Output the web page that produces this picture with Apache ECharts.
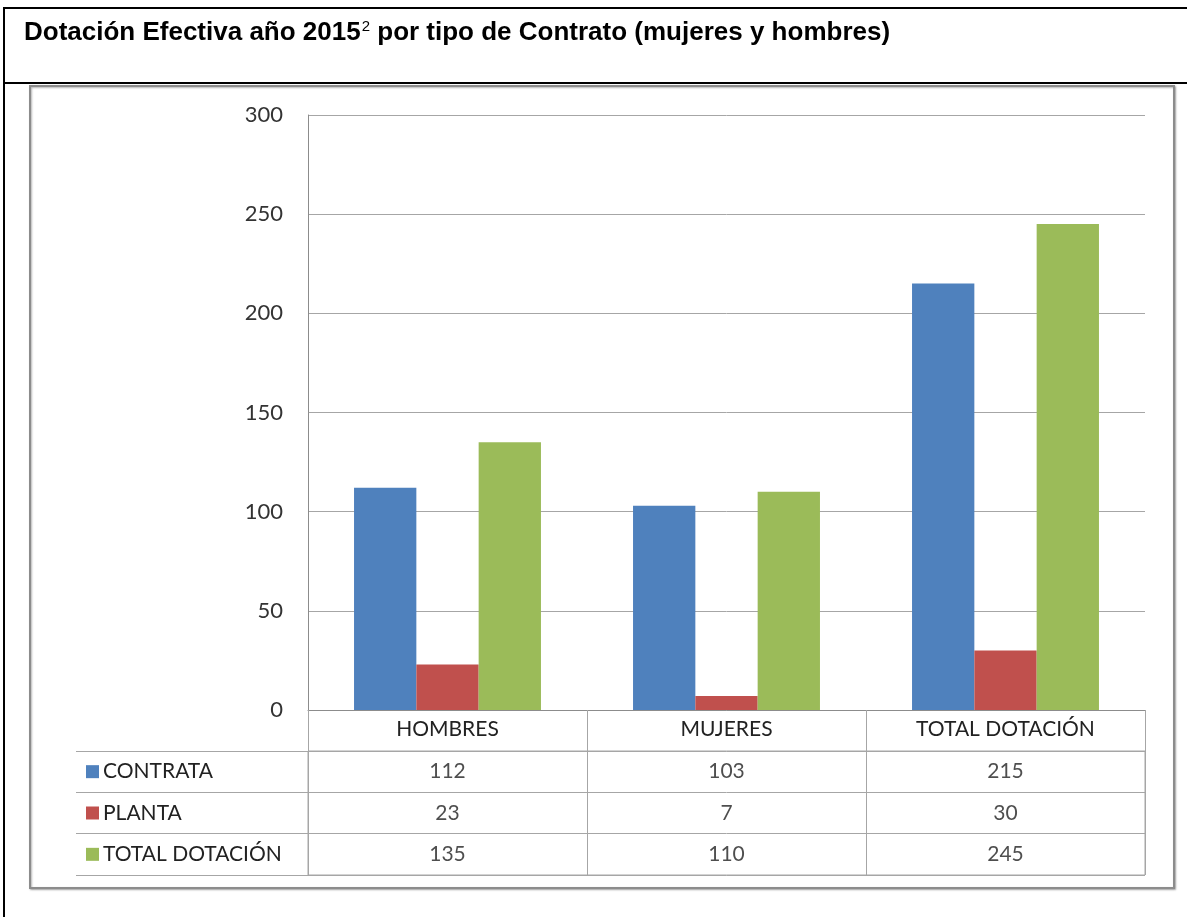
<!DOCTYPE html>
<html>
<head>
<meta charset="utf-8">
<script src="https://cdn.jsdelivr.net/npm/echarts@6/dist/echarts.min.js"></script>
<style>
  html, body { margin: 0; padding: 0; background: #fff; }
  #chart { width: 1187px; height: 917px; }
</style>
</head>
<body>
<div id="chart"></div>
<script>
// data
var categories = ['HOMBRES', 'MUJERES', 'TOTAL DOTACIÓN'];
var seriesNames = ['CONTRATA', 'PLANTA', 'TOTAL DOTACIÓN'];
var contrata = [112, 103, 215];
var planta = [23, 7, 30];
var totalDotacion = [135, 110, 245];
var yTicks = [0, 50, 100, 150, 200, 250, 300];

var colors = ['#4F81BD', '#C0504D', '#9BBB59'];
var values = [contrata, planta, totalDotacion];
var lineGray = '#A6A6A6';
var labelFont = 'Lato, "Open Sans", sans-serif';
var titleFont = '"Liberation Sans", Arial, sans-serif';

var chartDom = document.getElementById('chart');
var myChart = echarts.init(chartDom);

// cells of the data table: [category, row name, value]
var cells = [];
values.forEach(function (arr, s) {
    arr.forEach(function (v, c) {
        cells.push([categories[c], seriesNames[s], v]);
    });
});

var rich = {};
colors.forEach(function (col, i) {
    rich['s' + i] = { width: 13, height: 13, backgroundColor: col };
});
rich.t = { fontSize: 21, fontFamily: labelFont, color: '#222', padding: [0, 0, 0, 4] };

var option = {
    animation: false,
    title: {
        text: 'Dotación Efectiva año 2015{sup|2} por tipo de Contrato (mujeres y hombres)',
        left: 19,
        top: 14,
        textStyle: {
            fontFamily: titleFont,
            fontWeight: 'bold',
            fontSize: 26,
            color: '#000',
            rich: {
                sup: {
                    fontFamily: titleFont,
                    fontWeight: 'normal',
                    fontSize: 15,
                    color: '#000',
                    verticalAlign: 'top',
                    padding: [0, 0, 12, 1]
                }
            }
        }
    },
    graphic: [
        { type: 'rect', shape: { x: 4, y: 8, width: 1200, height: 1000 },
          style: { fill: 'none', stroke: '#000', lineWidth: 2 }, z: -10 },
        { type: 'line', shape: { x1: 4, y1: 83, x2: 1187, y2: 83 },
          style: { stroke: '#000', lineWidth: 2 }, z: -10 },
        { type: 'rect', shape: { x: 30, y: 86, width: 1144, height: 802 },
          style: { fill: '#fff', stroke: '#8C8C8C', lineWidth: 2,
                   shadowBlur: 2, shadowOffsetX: 1, shadowOffsetY: 1, shadowColor: 'rgba(0,0,0,0.3)' }, z: -9 }
    ],
    grid: [
        { left: 308, right: 42, top: 115, bottom: 207 },
        { left: 308, right: 42, top: 751, bottom: 42, show: true, borderColor: lineGray, borderWidth: 1 }
    ],
    xAxis: [
        {
            type: 'category',
            gridIndex: 0,
            data: categories,
            axisLine: { show: true, lineStyle: { color: '#8C8C8C' } },
            axisTick: { show: true, interval: 0, length: 41, lineStyle: { color: lineGray } },
            axisLabel: { interval: 0, margin: 9, fontSize: 21, fontFamily: labelFont, color: '#222' }
        },
        {
            type: 'category',
            gridIndex: 1,
            data: categories,
            axisLine: { show: false },
            axisTick: { show: false },
            axisLabel: { show: false },
            splitLine: { show: true, interval: 0, lineStyle: { color: lineGray } }
        }
    ],
    yAxis: [
        {
            type: 'value',
            gridIndex: 0,
            min: yTicks[0],
            max: yTicks[yTicks.length - 1],
            interval: yTicks[1] - yTicks[0],
            axisLine: { show: true, lineStyle: { color: '#8C8C8C' } },
            axisTick: { show: false },
            splitLine: { show: true, lineStyle: { color: lineGray } },
            axisLabel: { margin: 25, fontSize: 22, fontFamily: labelFont, color: '#333' }
        },
        {
            type: 'category',
            gridIndex: 1,
            inverse: true,
            data: seriesNames,
            axisLine: { show: true, lineStyle: { color: lineGray } },
            axisTick: { show: true, interval: 0, length: 232, lineStyle: { color: lineGray } },
            splitLine: { show: true, interval: 0, lineStyle: { color: lineGray } },
            axisLabel: {
                interval: 0,
                align: 'left',
                margin: 222,
                formatter: function (name) {
                    return '{s' + seriesNames.indexOf(name) + '|}{t|' + name + '}';
                },
                rich: rich
            }
        },
        {
            type: 'category',
            gridIndex: 1,
            inverse: true,
            data: seriesNames,
            offset: 232,
            axisLine: { show: true, lineStyle: { color: lineGray } },
            axisTick: { show: false },
            axisLabel: { show: false }
        }
    ],
    series: values.map(function (arr, i) {
        return {
            name: seriesNames[i],
            type: 'bar',
            xAxisIndex: 0,
            yAxisIndex: 0,
            data: arr,
            barGap: 0,
            barCategoryGap: '33%',
            itemStyle: { color: colors[i] }
        };
    }).concat([{
        type: 'scatter',
        xAxisIndex: 1,
        yAxisIndex: 1,
        data: cells,
        symbol: 'rect',
        symbolSize: 1,
        itemStyle: { color: 'rgba(0,0,0,0)' },
        label: {
            show: true,
            position: 'inside',
            formatter: function (p) { return p.value[2]; },
            fontSize: 21,
            fontFamily: labelFont,
            color: '#222'
        }
    }])
};

option && myChart.setOption(option);
</script>
</body>
</html>
